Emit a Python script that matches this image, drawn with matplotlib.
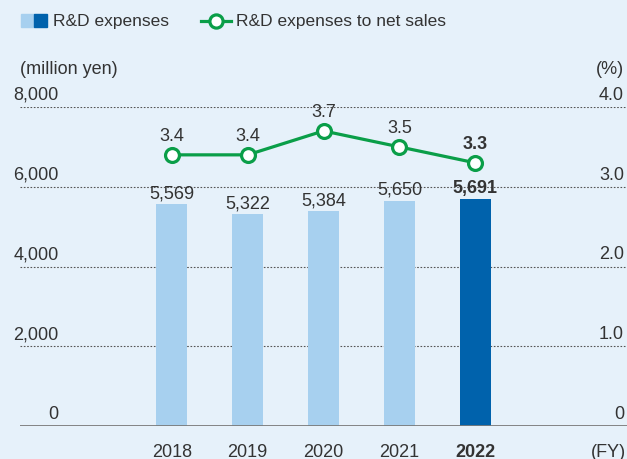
import matplotlib
matplotlib.use("Agg")
import matplotlib.pyplot as plt
from matplotlib.lines import Line2D
from matplotlib.patches import Rectangle

# data
years = ["2018", "2019", "2020", "2021", "2022"]
expenses = [5569, 5322, 5384, 5650, 5691]
ratio = [3.4, 3.4, 3.7, 3.5, 3.3]
left_ticks = [0, 2000, 4000, 6000, 8000]
right_ticks = [0, 1.0, 2.0, 3.0, 4.0]

BG = "#e6f1fa"
LIGHT = "#a7d0ef"
DARK = "#0062ac"
GREEN = "#0a9e48"
TXT = "#333333"

narrow = ["Liberation Sans Narrow", "Liberation Sans", "DejaVu Sans"]
regular = ["Liberation Sans", "DejaVu Sans"]
FS = 13

fig = plt.figure(figsize=(6.27, 4.6), dpi=100, facecolor=BG)
ax = fig.add_axes([20 / 627, 33 / 460, 607 / 627, 319 / 460])
ax.set_facecolor(BG)
ax.set_xlim(-2, 6)
ax.set_ylim(0, 8000)
for s in ax.spines.values():
    s.set_visible(False)
ax.set_xticks([])
ax.set_yticks([])

x = list(range(len(years)))
colors = [LIGHT] * (len(years) - 1) + [DARK]
ax.bar(x, expenses, width=0.41, color=colors, zorder=2)

# grid lines and baseline
for v in left_ticks[1:]:
    ax.axhline(v, color="#555555", lw=0.8, ls=(0, (1.5, 1.5)), zorder=1)
ax.axhline(0, color="#7a7a7a", lw=2, zorder=3)

# left / right tick labels
for lv, rv in zip(left_ticks, right_ticks):
    ax.annotate(f"{lv:,}", xy=(-1.49, lv), xytext=(0, 3), textcoords="offset points",
                ha="right", va="bottom", fontsize=FS, color=TXT, family=narrow)
    rlab = "0" if rv == 0 else f"{rv:.1f}"
    ax.annotate(rlab, xy=(5.96, lv), xytext=(0, 3), textcoords="offset points",
                ha="right", va="bottom", fontsize=FS, color=TXT, family=narrow)

# line on secondary scale
ax2 = ax.twinx()
ax2.set_ylim(0, 4)
ax2.axis("off")
ax2.plot(x, ratio, color=GREEN, lw=2.3, marker="o", markersize=10,
         markerfacecolor="white", markeredgecolor=GREEN, markeredgewidth=2.3, zorder=4)

last = len(years) - 1
for i in x:
    w = "bold" if i == last else "normal"
    ax.annotate(f"{expenses[i]:,}", xy=(i, expenses[i]), xytext=(0, 2), textcoords="offset points",
                ha="center", va="bottom", fontsize=FS, color=TXT, family=narrow, fontweight=w)
    ax2.annotate(f"{ratio[i]:.1f}", xy=(i, ratio[i]), xytext=(0, 8), textcoords="offset points",
                 ha="center", va="bottom", fontsize=FS, color=TXT, family=narrow, fontweight=w)
    ax.annotate(years[i], xy=(i, 0), xytext=(0, -12), textcoords="offset points",
                ha="center", va="top", fontsize=FS, color=TXT, family=narrow, fontweight=w)

ax.annotate("(FY)", xy=(5.75, 0), xytext=(0, -12), textcoords="offset points",
            ha="center", va="top", fontsize=FS, color=TXT, family=narrow)

# unit labels
fig.text(20 / 627, 1 - 70 / 460, "(million yen)", ha="left", va="center",
         fontsize=FS, color=TXT, family=narrow)
fig.text(624 / 627, 1 - 70 / 460, "(%)", ha="right", va="center",
         fontsize=FS, color=TXT, family=narrow)

# legend drawn by hand
fig.patches.append(Rectangle((21 / 627, 1 - 28 / 460), 13 / 627, 13 / 460,
                             transform=fig.transFigure, color=LIGHT))
fig.patches.append(Rectangle((34 / 627, 1 - 28 / 460), 13 / 627, 13 / 460,
                             transform=fig.transFigure, color=DARK))
fig.text(53 / 627, 1 - 21.5 / 460, "R&D expenses", ha="left", va="center",
         fontsize=12.5, color=TXT, family=regular)
fig.lines.append(Line2D([201 / 627, 231 / 627], [1 - 21.5 / 460] * 2, transform=fig.transFigure,
                        color=GREEN, lw=2.3))
fig.lines.append(Line2D([216 / 627], [1 - 21.5 / 460], transform=fig.transFigure,
                        color=GREEN, marker="o", markersize=9.5, markerfacecolor="white",
                        markeredgewidth=2.3, ls="none"))
fig.text(236 / 627, 1 - 21.5 / 460, "R&D expenses to net sales", ha="left", va="center",
         fontsize=12.5, color=TXT, family=regular)

fig.savefig("out.png", dpi=100, facecolor=BG)
